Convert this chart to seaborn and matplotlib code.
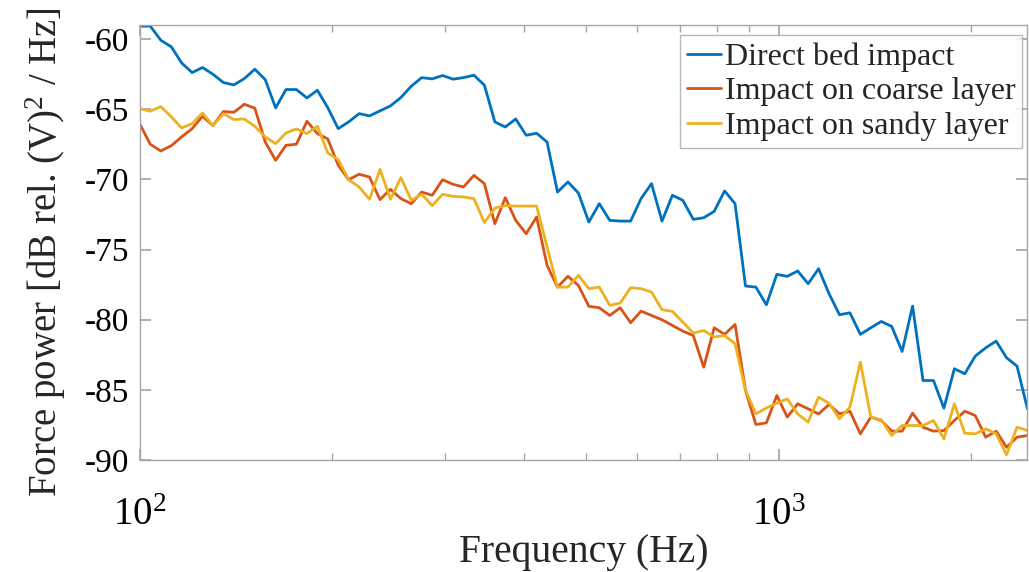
import numpy as np
import pandas as pd
import matplotlib
matplotlib.use("Agg")
import matplotlib.pyplot as plt
import seaborn as sns

# frequency grid (Hz)
freq = [100.0, 103.8, 107.8, 112.0, 116.2, 120.7, 125.3, 130.1, 135.1, 140.3,
        145.7, 151.3, 157.1, 163.1, 169.3, 175.8, 182.6, 189.6, 196.8, 204.4,
        212.2, 220.4, 228.8, 237.6, 246.7, 256.2, 266.0, 276.2, 286.8, 297.8,
        309.2, 321.1, 333.4, 346.2, 359.5, 373.3, 387.6, 402.5, 417.9, 434.0,
        450.6, 467.9, 485.9, 504.5, 523.9, 544.0, 564.9, 586.5, 609.0, 632.4,
        656.7, 681.9, 708.0, 735.2, 763.4, 792.7, 823.1, 854.7, 887.5, 921.5,
        956.9, 993.6, 1031.7, 1071.3, 1112.4, 1155.1, 1199.4, 1245.4, 1293.2, 1342.8,
        1394.3, 1447.8, 1503.4, 1561.1, 1621.0, 1683.2, 1747.8, 1814.8, 1884.5, 1956.8,
        2031.9, 2109.8, 2190.8, 2274.8, 2362.1, 2452.7]

direct_bed = [-59.07, -59.07, -60.07, -60.55, -61.69, -62.38, -62.02, -62.50, -63.09, -63.26,
              -62.81, -62.14, -62.88, -64.90, -63.59, -63.59, -64.19, -63.64, -64.88, -66.38,
              -65.90, -65.31, -65.47, -65.11, -64.76, -64.16, -63.35, -62.74, -62.83, -62.59,
              -62.85, -62.74, -62.57, -63.28, -65.90, -66.26, -65.69, -66.85, -66.71, -67.33,
              -70.90, -70.18, -70.97, -73.04, -71.73, -72.92, -72.97, -72.97, -71.37, -70.30,
              -72.97, -71.13, -71.49, -72.85, -72.73, -72.28, -70.82, -71.73, -77.60, -77.68,
              -78.94, -76.77, -76.91, -76.53, -77.44, -76.37, -78.15, -79.65, -79.51, -81.05,
              -80.58, -80.13, -80.48, -82.27, -79.03, -84.34, -84.34, -86.31, -83.50, -83.86,
              -82.60, -82.01, -81.53, -82.72, -83.31, -86.36]

coarse_layer = [-66.07, -67.49, -67.97, -67.59, -66.97, -66.38, -65.50, -66.16, -65.16, -65.21,
                -64.64, -64.92, -67.33, -68.64, -67.57, -67.49, -65.85, -66.73, -67.11, -68.99,
                -70.02, -69.63, -69.83, -71.44, -70.71, -71.37, -71.73, -70.90, -71.13, -70.02,
                -70.35, -70.54, -69.71, -70.30, -73.16, -71.30, -72.92, -73.87, -72.68, -76.13,
                -77.68, -76.91, -77.56, -79.05, -79.15, -79.70, -79.15, -80.22, -79.39, -79.70,
                -80.01, -80.41, -80.82, -81.13, -83.39, -80.58, -81.05, -80.34, -85.05, -87.48,
                -87.36, -85.41, -86.95, -86.00, -86.36, -86.72, -86.05, -86.72, -86.53, -88.14,
                -86.95, -87.19, -87.95, -87.95, -86.67, -87.67, -87.95, -87.91, -87.19, -86.53,
                -86.84, -88.38, -87.95, -89.10, -88.38, -88.26]

sandy_layer = [-64.95, -65.14, -64.81, -65.54, -66.33, -66.02, -65.26, -66.16, -65.31, -65.73,
               -65.69, -66.21, -66.97, -67.45, -66.69, -66.40, -66.73, -66.21, -68.11, -68.59,
               -70.02, -70.54, -71.42, -69.28, -71.42, -69.87, -71.49, -71.06, -71.87, -71.06,
               -71.21, -71.25, -71.37, -73.08, -72.04, -71.87, -71.90, -71.90, -71.90, -74.82,
               -77.68, -77.68, -76.84, -77.79, -77.68, -78.98, -78.82, -77.72, -77.79, -78.03,
               -79.29, -79.41, -80.17, -80.96, -80.77, -81.24, -81.13, -81.72, -85.05, -86.72,
               -86.29, -85.96, -85.65, -86.72, -87.31, -85.53, -85.96, -87.07, -86.24, -83.03,
               -86.95, -87.14, -88.26, -87.55, -87.55, -87.55, -87.19, -88.50, -86.00, -88.10,
               -88.14, -87.79, -88.14, -89.64, -87.67, -87.91]

labels = ["Direct bed impact", "Impact on coarse layer", "Impact on sandy layer"]
colors = ["#0072BD", "#D95319", "#EDB120"]

sns.set_theme(style="ticks")
plt.rcParams["font.family"] = ["Liberation Serif", "DejaVu Serif"]
plt.rcParams["mathtext.fontset"] = "custom"
plt.rcParams["mathtext.rm"] = "Liberation Serif"
plt.rcParams["mathtext.it"] = "Liberation Serif:italic"
plt.rcParams["axes.unicode_minus"] = False

fig = plt.figure(figsize=(10.29, 5.72), dpi=100)
ax = fig.add_axes([0.136, 0.196, 0.8625, 0.760])

for vals, lab, col in zip([direct_bed, coarse_layer, sandy_layer], labels, colors):
    sns.lineplot(x=freq, y=vals, ax=ax, color=col, linewidth=2.0, label=lab)

ax.set_xscale("log")
ax.set_xlim(100, freq[-1])
ax.set_ylim(-90, -59)
ax.set_yticks([-90, -85, -80, -75, -70, -65, -60])

edge = "#a6a6a6"
for s in ax.spines.values():
    s.set_color(edge)
    s.set_linewidth(1.0)
ax.tick_params(which="both", direction="in", top=True, right=True, color=edge,
               labelcolor="black", labelsize=24)
ax.tick_params(which="major", length=8)
ax.tick_params(which="minor", length=5)
ax.tick_params(axis="y", which="major", pad=8)
ax.tick_params(axis="x", which="major", pad=27, labelsize=28)

ax.set_xlabel("Frequency (Hz)", fontsize=28.5, labelpad=0)
ax.set_ylabel(r"Force power [dB rel. (V)$^2$ / Hz]", fontsize=28)
ax.yaxis.set_label_coords(-0.081, 0.478)

leg = ax.legend(loc="upper right", bbox_to_anchor=(0.9944, 0.977), borderaxespad=0,
                fontsize=23, frameon=True, fancybox=False, handlelength=1.05,
                handletextpad=0.12, labelspacing=0.16, borderpad=0.22)
leg.get_frame().set_edgecolor(edge)
leg.get_frame().set_linewidth(1.0)

fig.savefig("out.png", dpi=100)
